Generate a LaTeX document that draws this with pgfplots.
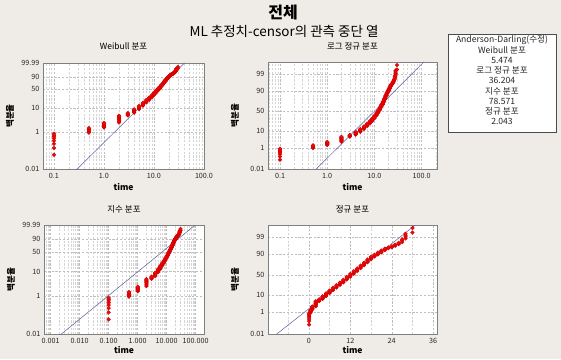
\documentclass[border=0pt]{standalone}
\usepackage{fontspec}
\setmainfont{Noto Sans CJK KR}
\usepackage{pgfplots}
\pgfplotsset{compat=1.18}
\usepackage{pgfplotstable}

\definecolor{bg}{RGB}{239,235,230}
\definecolor{ptc}{RGB}{232,12,12}
\definecolor{ptedge}{RGB}{215,0,0}
\definecolor{fitc}{RGB}{95,95,155}
\definecolor{framec}{RGB}{128,128,128}
\definecolor{gridc}{RGB}{190,190,190}
\definecolor{mgridc}{RGB}{212,212,212}

% time, cumulative percent (plotting positions)
\pgfplotstableread{
t p
0.1 0.105
0.1 0.21
0.1 0.315
0.1 0.42
0.1 0.525
0.1 0.63
0.1 0.735
0.1 0.84
0.5 0.95
0.5 1.05
0.5 1.16
0.5 1.27
0.5 1.37
0.5 1.47
1 1.58
1 1.70
1 1.82
1 1.94
1 2.06
1 2.18
1 2.30
1 2.42
2 2.55
2 2.85
2 3.15
2 3.45
2 3.75
2 4.05
2 4.35
2 4.65
2 4.95
3 5.1
3 5.4
3 5.7
3 6.0
3 6.3
4 6.6
4 7.0
4 7.4
4 7.8
4 8.2
4 8.6
4 9.0
5 9.3
5 9.8
5 10.3
5 10.8
5 11.3
5 11.8
5 12.3
6 12.7
6 13.3
6 13.9
6 14.5
6 15.1
6 15.7
6 16.3
7 16.9
7 18.3
7 19.6
7 21.0
8 21.5
8 23.0
8 24.6
8 26.1
9 26.6
9 28.3
9 30.0
9 31.7
10 32.3
10 34.3
10 36.2
10 38.2
11 38.8
11 41.0
11 43.0
11 45.0
12 45.6
12 47.8
12 49.8
12 51.8
13 52.4
13 54.5
13 56.5
13 58.5
14 59.1
14 61.2
14 63.2
14 65.2
15 65.8
15 67.8
15 69.7
15 71.6
16 72.2
16 74.0
16 75.8
16 77.6
17 78.2
17 79.9
17 81.5
17 83.1
18 83.6
18 84.9
18 86.0
18 87.1
19 87.5
19 88.3
19 89.0
19 89.6
20 89.9
20 90.6
20 91.2
20 91.8
21 92.1
21 92.7
21 93.1
21 93.6
22 93.9
22 94.3
22 94.6
22 94.9
23 95.1
23 95.4
23 95.6
24 95.8
24 96.0
24 96.2
25 96.5
25 96.8
25 97.0
26 97.2
26 97.5
26 97.7
27 97.9
27 98.3
27 98.6
28 98.8
28 99.06
28 99.29
28 99.45
30 99.55
30 99.81
}\data

\pgfplotsset{
  pp/.style={
    scale only axis,
    axis background/.style={fill=white},
    axis line style={draw=framec, line width=0.7pt},
    major tick length=0pt, minor tick length=0pt,
    xmajorgrids, ymajorgrids, xminorgrids,
    major grid style={gridc, line width=0.45pt, dash pattern=on 2.2pt off 1.6pt},
    minor grid style={mgridc, line width=0.4pt, dash pattern=on 2.2pt off 1.6pt},
    tick label style={font=\fontsize{7.2}{8}\selectfont, text=black!85},
    xticklabel style={yshift=-1pt},
    /pgf/number format/assume math mode=true,
    title style={font=\fontsize{8.5}{10}\selectfont, anchor=center},
    xlabel style={font=\bfseries\fontsize{8.5}{10}\selectfont, anchor=center},
    ylabel style={font=\bfseries\fontsize{8.5}{10}\selectfont, anchor=center},
    ylabel={백분율}, xlabel={time},
  },
  wbl/.style={
    y coord trafo/.code={\pgfmathparse{ln(-ln(1-(##1)/100))}},
    ymin=0.01, ymax=99.99,
    ytick={0.01,1,10,50,90,99.99},
    yticklabels={0.01,1,10,50,90,99.99},
  },
  nrm/.style={
    y coord trafo/.code={\pgfmathparse{(2*((##1)>50)-1)*5.5556*(1-(min(##1,100-##1)/max(##1,100-##1))^0.1186)}},
    ymin=0.01, ymax=99.9,
    ytick={0.01,1,10,50,90,99},
    yticklabels={0.01,1,10,50,90,99},
  },
  pts/.style={only marks, mark=*, mark size=1.9pt, mark options={fill=ptc, draw=ptedge, line width=0.3pt}},
  fitl/.style={draw=fitc, line width=0.5pt, no marks},
}

\begin{document}
\begin{tikzpicture}
\fill[bg] (0,0) rectangle (561pt,359pt);
\useasboundingbox (0,0) rectangle (561pt,359pt);

\node[font=\bfseries\fontsize{16}{18}\selectfont] at (283pt,346pt) {전체};
\node[font=\fontsize{13.5}{15}\selectfont] at (284pt,328pt) {ML 추정치-censor의 관측 중단 열};

% Weibull
\begin{axis}[pp, wbl,
  at={(43pt,190pt)}, anchor=south west, width=161pt, height=106pt,
  xmode=log, xmin=0.0603, xmax=100,
  xtick={0.1,1,10,100}, xticklabels={0.1,1.0,10.0,100.0},
  minor xtick={0.07,0.08,0.09,0.2,0.3,0.4,0.5,0.6,0.7,0.8,0.9,2,3,4,5,6,7,8,9,20,30,40,50,60,70,80,90},
  title={Weibull 분포},
  title style={at={(axis description cs:0.5,1.097)}},
  xlabel style={at={(axis description cs:0.5,-0.17)}},
  ylabel style={at={(axis description cs:-0.205,0.5)}},
]
\addplot[fitl] coordinates {(0.2,0.01) (41,99.99)};
\addplot[pts] table[x=t,y=p] {\data};
\end{axis}

% Lognormal
\begin{axis}[pp, nrm,
  at={(268pt,190pt)}, anchor=south west, width=169pt, height=107pt,
  xmode=log, xmin=0.0557, xmax=211,
  xtick={0.1,1,10,100}, xticklabels={0.1,1.0,10.0,100.0},
  minor xtick={0.06,0.07,0.08,0.09,0.2,0.3,0.4,0.5,0.6,0.7,0.8,0.9,2,3,4,5,6,7,8,9,20,30,40,50,60,70,80,90,200},
  title={로그 정규 분포},
  title style={at={(axis description cs:0.5,1.093)}},
  xlabel style={at={(axis description cs:0.5,-0.168)}},
  ylabel style={at={(axis description cs:-0.195,0.5)}},
]
\addplot[fitl] coordinates {(0.58,0.01) (112,99.9)};
\addplot[pts] table[x=t,y=p] {\data};
\end{axis}

% Exponential
\begin{axis}[pp, wbl,
  at={(44pt,25pt)}, anchor=south west, width=160pt, height=109pt,
  xmode=log, xmin=0.00059, xmax=193,
  xtick={0.001,0.01,0.1,1,10,100}, xticklabels={0.001,0.010,0.100,1.000,10.000,100.000},
  minor xtick={0.0006,0.0007,0.0008,0.0009,0.002,0.003,0.004,0.005,0.006,0.007,0.008,0.009,0.02,0.03,0.04,0.05,0.06,0.07,0.08,0.09,0.2,0.3,0.4,0.5,0.6,0.7,0.8,0.9,2,3,4,5,6,7,8,9,20,30,40,50,60,70,80,90},
  title={지수 분포},
  title style={at={(axis description cs:0.5,1.085)}},
  xlabel style={at={(axis description cs:0.5,-0.147)}},
  ylabel style={at={(axis description cs:-0.206,0.5)}},
]
\addplot[fitl] coordinates {(0.00105,0.01) (96.6,99.99)};
\addplot[pts] table[x=t,y=p] {\data};
\end{axis}

% Normal
\begin{axis}[pp, nrm,
  at={(268pt,25pt)}, anchor=south west, width=169pt, height=109pt,
  xmin=-11.8, xmax=37.1,
  xtick={0,12,24,36}, xticklabels={0,12,24,36},
  minor xtick={-6,6,18,30},
  title={정규 분포},
  title style={at={(axis description cs:0.5,1.085)}},
  xlabel style={at={(axis description cs:0.5,-0.147)}},
  ylabel style={at={(axis description cs:-0.195,0.5)}},
]
\addplot[fitl] coordinates {(-9.35,0.01) (30.9,99.9)};
\addplot[pts] table[x=t,y=p] {\data};
\end{axis}

% Anderson-Darling box
\draw[fill=white, draw=black!70, line width=0.5pt] (448pt,227pt) rectangle (556pt,325pt);
\begin{scope}[every node/.style={font=\fontsize{8.6}{10}\selectfont, text=black!85, anchor=center}]
\node at (502pt,319pt) {Anderson-Darling(수정)};
\node at (502pt,308.8pt) {Weibull 분포};
\node at (502pt,298.6pt) {5.474};
\node at (502pt,288.4pt) {로그 정규 분포};
\node at (502pt,278.2pt) {36.204};
\node at (502pt,268pt) {지수 분포};
\node at (502pt,257.8pt) {78.571};
\node at (502pt,247.6pt) {정규 분포};
\node at (502pt,237.4pt) {2.043};
\end{scope}
\end{tikzpicture}
\end{document}
